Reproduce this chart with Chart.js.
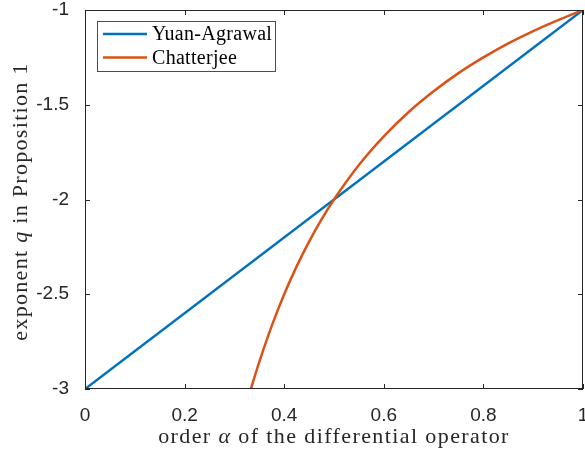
<!DOCTYPE html>
<html><head><meta charset="utf-8">
<script src="https://cdn.jsdelivr.net/npm/chart.js@4/dist/chart.umd.min.js"></script>
<style>html,body{margin:0;padding:0;background:#fff}</style>
</head><body>
<canvas id="c" width="585" height="452"></canvas>
<script>
// ---- data ----
const seriesNames = ['Yuan-Agrawal', 'Chatterjee'];
const alphaYA = [0, 1];
const qYA = [-3, -1];
const alphaCh = [0.333, 0.35, 0.375, 0.4, 0.425, 0.45, 0.475, 0.5, 0.55, 0.6, 0.65, 0.7, 0.75, 0.8, 0.85, 0.9, 0.95, 1.0];
const qCh = [-3.0, -2.857, -2.667, -2.5, -2.353, -2.222, -2.105, -2.0, -1.818, -1.667, -1.538, -1.429, -1.333, -1.25, -1.176, -1.111, -1.053, -1.0];
const xTicks = [0, 0.2, 0.4, 0.6, 0.8, 1];
const yTicks = [-3, -2.5, -2, -1.5, -1];
const xTitleParts = [['order ', false], ['\u03b1', true], [' of the differential operator', false]];
const yTitleParts = [['exponent ', false], ['q', true], [' in Proposition 1', false]];
const colors = ['#0072BD', '#D95319'];

const AXIS = '#262626';
const SERIF = '"Liberation Serif", "Times New Roman", serif';
const SANS = '"Liberation Sans", Arial, sans-serif';

function drawParts(ctx, parts, size, spacing) {
  ctx.letterSpacing = spacing + 'px';
  let total = 0;
  const widths = parts.map(([t, it]) => {
    ctx.font = (it ? 'italic ' : '') + size + 'px ' + SERIF;
    const w = ctx.measureText(t).width; total += w; return w;
  });
  let x = -total / 2;
  parts.forEach(([t, it], i) => {
    ctx.font = (it ? 'italic ' : '') + size + 'px ' + SERIF;
    ctx.fillText(t, x, 0);
    x += widths[i];
  });
  ctx.letterSpacing = '0px';
}

const framePlugin = {
  id: 'frame',
  afterDraw(chart) {
    const ctx = chart.ctx;
    const {left, right, top, bottom} = chart.chartArea;
    const xs = chart.scales.x, ys = chart.scales.y;
    ctx.save();
    ctx.strokeStyle = AXIS;
    ctx.lineWidth = 1;
    ctx.strokeRect(Math.round(left) + 0.5, Math.round(top) + 0.5, Math.round(right - left) - 1, Math.round(bottom - top) - 1);
    const tl = 5;
    ctx.beginPath();
    xTicks.forEach(v => {
      const px = Math.round(xs.getPixelForValue(v)) + 0.5;
      ctx.moveTo(px, bottom); ctx.lineTo(px, bottom - tl);
      ctx.moveTo(px, top); ctx.lineTo(px, top + tl);
    });
    yTicks.forEach(v => {
      const py = Math.round(ys.getPixelForValue(v)) + 0.5;
      ctx.moveTo(left, py); ctx.lineTo(left + tl, py);
      ctx.moveTo(right, py); ctx.lineTo(right - tl, py);
    });
    ctx.stroke();

    // axis titles
    ctx.fillStyle = AXIS;
    ctx.textBaseline = 'middle';
    ctx.textAlign = 'left';
    ctx.save();
    ctx.translate((left + right) / 2, 437);
    drawParts(ctx, xTitleParts, 22, 1.4);
    ctx.restore();
    ctx.save();
    ctx.translate(21, (top + bottom) / 2 + 2);
    ctx.rotate(-Math.PI / 2);
    drawParts(ctx, yTitleParts, 22, 1.3);
    ctx.restore();

    // legend
    const lx = 97.5, ly = 21.5, lw = 178, lh = 50;
    ctx.fillStyle = '#fff';
    ctx.fillRect(lx, ly, lw, lh);
    ctx.strokeStyle = '#4d4d4d';
    ctx.lineWidth = 1;
    ctx.strokeRect(lx, ly, lw, lh);
    chart.data.datasets.forEach((ds, i) => {
      const y = 34 + i * 23.5;
      ctx.strokeStyle = ds.borderColor;
      ctx.lineWidth = 2.5;
      ctx.beginPath(); ctx.moveTo(103, y); ctx.lineTo(147, y); ctx.stroke();
      ctx.fillStyle = '#000';
      ctx.font = '20px ' + SERIF;
      ctx.letterSpacing = '0.3px';
      ctx.fillText(ds.label, 152, y + 1);
      ctx.letterSpacing = '0px';
    });
    ctx.restore();
  }
};

new Chart(document.getElementById('c'), {
  type: 'scatter',
  data: {
    datasets: [
      { label: seriesNames[0], data: alphaYA.map((a, i) => ({x: a, y: qYA[i]})), borderColor: colors[0], backgroundColor: colors[0], showLine: true, borderWidth: 2.5, pointRadius: 0, order: 1 },
      { label: seriesNames[1], data: alphaCh.map((a, i) => ({x: a, y: qCh[i]})), borderColor: colors[1], backgroundColor: colors[1], showLine: true, borderWidth: 2.5, pointRadius: 0, cubicInterpolationMode: 'monotone', order: 0 }
    ]
  },
  options: {
    responsive: false,
    animation: false,
    devicePixelRatio: 1,
    layout: { padding: { left: 0, right: 2, top: 10, bottom: 0 } },
    plugins: { legend: { display: false }, tooltip: { enabled: false } },
    scales: {
      x: {
        type: 'linear', min: 0, max: 1,
        afterBuildTicks: s => { s.ticks = xTicks.map(v => ({value: v})); },
        afterFit: s => { s.height = 63; s.paddingLeft = 0; s.paddingRight = 0; },
        grid: { display: false }, border: { display: false },
        ticks: { color: AXIS, font: { family: SANS, size: 19 }, padding: 7, callback: v => String(v), maxRotation: 0 }
      },
      y: {
        type: 'linear', min: -3, max: -1,
        afterBuildTicks: s => { s.ticks = yTicks.map(v => ({value: v})); },
        afterFit: s => { s.width = 85; s.paddingTop = 0; s.paddingBottom = 0; },
        grid: { display: false }, border: { display: false },
        ticks: { color: AXIS, font: { family: SANS, size: 19 }, padding: 8, callback: v => String(v) }
      }
    }
  },
  plugins: [framePlugin]
});
</script>
</body></html>
